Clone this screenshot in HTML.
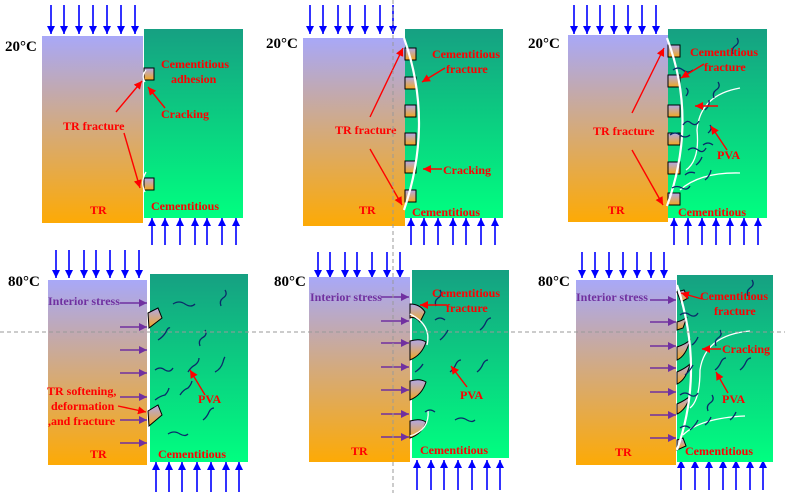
<!DOCTYPE html>
<html><head><meta charset="utf-8"><style>
html,body{margin:0;padding:0;background:#fff;}
svg{display:block;}
text{font-family:"Liberation Serif",serif;font-weight:bold;}
.r{fill:#ff0000;font-size:12px;}
.p{fill:#7030a0;font-size:12px;}
.t{fill:#000;font-size:15px;}
.ba{stroke:#0000ff;stroke-width:1.6;marker-end:url(#mb);}
.ra{stroke:#ff0000;stroke-width:1.4;marker-end:url(#mr);}
.pa{stroke:#7030a0;stroke-width:1.6;marker-end:url(#mp);}
.sq{fill:url(#gs);stroke:#000;stroke-width:1;}
.w{fill:none;stroke:#fff;stroke-width:2.2;}
.w1{fill:none;stroke:#fff;stroke-width:1.3;}
.f{fill:none;stroke:#0a2a6a;stroke-width:1.3;}
</style></head><body>
<svg width="785" height="493" viewBox="0 0 785 493" xmlns="http://www.w3.org/2000/svg">
<defs>
<linearGradient id="gt" x1="0" y1="0" x2="0" y2="1"><stop offset="0" stop-color="#a8a8f8"/><stop offset="0.5" stop-color="#d4aa7c"/><stop offset="1" stop-color="#fdaa05"/></linearGradient>
<linearGradient id="gc" x1="0" y1="0" x2="0" y2="1"><stop offset="0" stop-color="#16a082"/><stop offset="1" stop-color="#00ff80"/></linearGradient>
<linearGradient id="gs" x1="0" y1="0" x2="0" y2="1"><stop offset="0" stop-color="#b0a8e8"/><stop offset="1" stop-color="#f2a820"/></linearGradient>
<marker id="mb" markerWidth="8" markerHeight="8" refX="6" refY="3" orient="auto" markerUnits="userSpaceOnUse" viewBox="0 0 6 6"><path d="M0,0L6,3L0,6z" fill="#0000ff"/></marker>
<marker id="mr" markerWidth="8" markerHeight="8" refX="6" refY="3" orient="auto" markerUnits="userSpaceOnUse" viewBox="0 0 6 6"><path d="M0,0L6,3L0,6z" fill="#ff0000"/></marker>
<marker id="mp" markerWidth="8" markerHeight="8" refX="6" refY="3" orient="auto" markerUnits="userSpaceOnUse" viewBox="0 0 6 6"><path d="M0,0L6,3L0,6z" fill="#7030a0"/></marker>
</defs>

<!-- ===== Panel 1 ===== -->
<g class="ba">
<line x1="51" y1="5" x2="51" y2="34"/><line x1="64" y1="5" x2="64" y2="34"/><line x1="79" y1="5" x2="79" y2="34"/><line x1="93" y1="5" x2="93" y2="34"/><line x1="107" y1="5" x2="107" y2="34"/><line x1="121" y1="5" x2="121" y2="34"/><line x1="135" y1="5" x2="135" y2="34"/>
<line x1="152" y1="245" x2="152" y2="218"/><line x1="165" y1="245" x2="165" y2="218"/><line x1="180" y1="245" x2="180" y2="218"/><line x1="195" y1="245" x2="195" y2="218"/><line x1="207" y1="245" x2="207" y2="218"/><line x1="222" y1="245" x2="222" y2="218"/><line x1="236" y1="245" x2="236" y2="218"/>
</g>
<rect x="42" y="36" width="101" height="187" fill="url(#gt)"/>
<rect x="144" y="29" width="99" height="189" fill="url(#gc)"/>
<rect class="sq" x="144" y="68" width="10" height="12"/>
<rect class="sq" x="144" y="178" width="10" height="12"/>
<path class="w1" d="M146,70 Q141,76 145,82"/><path class="w1" d="M146,172 Q140,182 145,192"/>
<text class="t" x="5" y="51">20°C</text>
<text class="r" x="161" y="68">Cementitious</text><text class="r" x="171" y="83">adhesion</text>
<text class="r" x="161" y="118">Cracking</text>
<text class="r" x="63" y="130">TR fracture</text>
<text class="r" x="90" y="214">TR</text>
<text class="r" x="151" y="210">Cementitious</text>
<g class="ra"><line x1="116" y1="112" x2="142" y2="81"/><line x1="165" y1="108" x2="148" y2="87"/><line x1="124" y1="133" x2="140" y2="188"/></g>

<!-- ===== Panel 2 ===== -->
<g class="ba">
<line x1="310" y1="5" x2="310" y2="34"/><line x1="323" y1="5" x2="323" y2="34"/><line x1="338" y1="5" x2="338" y2="34"/><line x1="350" y1="5" x2="350" y2="34"/><line x1="365" y1="5" x2="365" y2="34"/><line x1="380" y1="5" x2="380" y2="34"/><line x1="393" y1="5" x2="393" y2="34"/>
<line x1="411" y1="245" x2="411" y2="218"/><line x1="424" y1="245" x2="424" y2="218"/><line x1="438" y1="245" x2="438" y2="218"/><line x1="453" y1="245" x2="453" y2="218"/><line x1="466" y1="245" x2="466" y2="218"/><line x1="481" y1="245" x2="481" y2="218"/><line x1="495" y1="245" x2="495" y2="218"/>
</g>
<rect x="303" y="38" width="102" height="188" fill="url(#gt)"/>
<rect x="405" y="29" width="98" height="189" fill="url(#gc)"/>
<rect class="sq" x="405" y="48" width="11" height="12"/><rect class="sq" x="405" y="77" width="11" height="12"/><rect class="sq" x="405" y="105" width="11" height="12"/><rect class="sq" x="405" y="133" width="11" height="12"/><rect class="sq" x="405" y="161" width="11" height="12"/><rect class="sq" x="405" y="190" width="11" height="12"/>
<path class="w" d="M404,38 Q434,122 404,210"/>
<text class="t" x="266" y="48">20°C</text>
<text class="r" x="432" y="58">Cementitious</text><text class="r" x="446" y="73">fracture</text>
<text class="r" x="443" y="174">Cracking</text>
<text class="r" x="335" y="134">TR fracture</text>
<text class="r" x="359" y="214">TR</text>
<text class="r" x="412" y="216">Cementitious</text>
<g class="ra"><line x1="445" y1="68" x2="422" y2="82"/><line x1="442" y1="169" x2="423" y2="169"/><line x1="370" y1="117" x2="403" y2="48"/><line x1="370" y1="149" x2="402" y2="205"/></g>

<!-- ===== Panel 3 ===== -->
<g class="ba">
<line x1="574" y1="5" x2="574" y2="34"/><line x1="587" y1="5" x2="587" y2="34"/><line x1="600" y1="5" x2="600" y2="34"/><line x1="614" y1="5" x2="614" y2="34"/><line x1="628" y1="5" x2="628" y2="34"/><line x1="642" y1="5" x2="642" y2="34"/><line x1="656" y1="5" x2="656" y2="34"/>
<line x1="674" y1="245" x2="674" y2="218"/><line x1="688" y1="245" x2="688" y2="218"/><line x1="702" y1="245" x2="702" y2="218"/><line x1="716" y1="245" x2="716" y2="218"/><line x1="730" y1="245" x2="730" y2="218"/><line x1="744" y1="245" x2="744" y2="218"/><line x1="758" y1="245" x2="758" y2="218"/>
</g>
<rect x="568" y="35" width="100" height="187" fill="url(#gt)"/>
<rect x="668" y="29" width="99" height="189" fill="url(#gc)"/>
<rect class="sq" x="668" y="45" width="12" height="12"/><rect class="sq" x="668" y="75" width="12" height="12"/><rect class="sq" x="668" y="105" width="12" height="12"/><rect class="sq" x="668" y="133" width="12" height="12"/><rect class="sq" x="668" y="162" width="12" height="12"/><rect class="sq" x="668" y="193" width="12" height="12"/>
<path class="w" d="M667,38 Q698,120 667,206"/>
<path class="w1" d="M686,170 Q700,160 697,130 Q700,95 740,88"/>
<path class="w1" d="M680,190 Q700,172 740,173"/>
<g class="f">
<path d="M737,38 q3,5 -2,8 q-4,3 -2,8"/><path d="M673,70 q5,-4 10,0 q5,4 10,0"/><path d="M686,88 q4,3 0,8"/><path d="M718,82 q3,5 -2,8 q-4,3 -2,8"/>
<path d="M683,125 q4,-6 8,-2 q5,4 8,-2"/><path d="M670,135 q5,-4 10,0 q5,4 10,0"/><path d="M688,150 q5,-4 10,0 q5,4 8,-2"/><path d="M705,110 q5,-4 4,-10"/><path d="M710,125 q3,4 -2,8"/><path d="M703,145 q5,-4 10,0"/><path d="M696,165 q4,-3 6,-8"/><path d="M705,180 q5,-4 6,-10"/><path d="M672,188 q5,-3 10,0 q5,3 8,-2"/><path d="M685,175 q4,-4 10,-2"/>
</g>
<text class="t" x="528" y="48">20°C</text>
<text class="r" x="690" y="56">Cementitious</text><text class="r" x="704" y="71">fracture</text>
<text class="r" x="593" y="135">TR fracture</text>
<text class="r" x="717" y="159">PVA</text>
<text class="r" x="608" y="214">TR</text>
<text class="r" x="678" y="216">Cementitious</text>
<g class="ra"><line x1="704" y1="64" x2="681" y2="78"/><line x1="718" y1="106" x2="695" y2="106"/><line x1="727" y1="150" x2="711" y2="126"/><line x1="632" y1="113" x2="664" y2="48"/><line x1="632" y1="150" x2="663" y2="205"/></g>

<!-- ===== Panel 4 ===== -->
<g class="ba">
<line x1="56" y1="250" x2="56" y2="278"/><line x1="69" y1="250" x2="69" y2="278"/><line x1="84" y1="250" x2="84" y2="278"/><line x1="96" y1="250" x2="96" y2="278"/><line x1="110" y1="250" x2="110" y2="278"/><line x1="125" y1="250" x2="125" y2="278"/><line x1="139" y1="250" x2="139" y2="278"/>
<line x1="156" y1="492" x2="156" y2="462"/><line x1="169" y1="492" x2="169" y2="462"/><line x1="182" y1="492" x2="182" y2="462"/><line x1="197" y1="492" x2="197" y2="462"/><line x1="211" y1="492" x2="211" y2="462"/><line x1="226" y1="492" x2="226" y2="462"/><line x1="239" y1="492" x2="239" y2="462"/>
</g>
<rect x="48" y="280" width="99" height="185" fill="url(#gt)"/>
<rect x="150" y="274" width="98" height="188" fill="url(#gc)"/>
<path d="M148,313 L158,308 L162,318 L149,328 Z" fill="url(#gs)" stroke="#000" stroke-width="1"/>
<path d="M148,411 L158,405 L162,415 L149,426 Z" fill="url(#gs)" stroke="#000" stroke-width="1"/>
<g class="f">
<path d="M173,304 q6,-4 12,0 q6,4 10,0"/><path d="M225,290 q3,5 -2,8 q-4,3 -2,8"/><path d="M158,340 q5,-3 8,-8 q2,-5 4,-4"/><path d="M205,330 q3,5 -3,8 q-4,3 -2,8"/><path d="M155,370 q5,-4 10,0 q5,3 8,-2"/><path d="M188,372 q3,-5 7,-7 q4,-3 4,-7"/><path d="M215,372 q6,-3 8,-10 q1,-4 2,-5"/><path d="M180,395 q3,-5 8,-7 q3,-3 4,-7"/><path d="M155,400 q5,-4 10,-5 q3,-3 4,-7"/><path d="M203,420 q4,-3 6,-8 q2,-4 5,-4"/><path d="M168,434 q6,-4 12,0 q5,3 8,0"/>
</g>
<g class="pa">
<line x1="120" y1="303" x2="147" y2="303"/><line x1="120" y1="327" x2="147" y2="327"/><line x1="120" y1="350" x2="147" y2="350"/><line x1="120" y1="373" x2="147" y2="373"/><line x1="120" y1="397" x2="147" y2="397"/><line x1="120" y1="420" x2="147" y2="420"/><line x1="120" y1="443" x2="147" y2="443"/>
</g>
<text class="t" x="8" y="286">80°C</text>
<text class="p" x="48" y="305">Interior stress</text>
<text class="r" x="47" y="395">TR softening,</text><text class="r" x="51" y="410">deformation</text><text class="r" x="48" y="425">,and fracture</text>
<text class="r" x="198" y="403">PVA</text>
<text class="r" x="90" y="458">TR</text>
<text class="r" x="158" y="458">Cementitious</text>
<g class="ra"><line x1="118" y1="406" x2="146" y2="412"/><line x1="205" y1="395" x2="190" y2="370"/></g>

<!-- ===== Panel 5 ===== -->
<g class="ba">
<line x1="318" y1="252" x2="318" y2="278"/><line x1="330" y1="252" x2="330" y2="278"/><line x1="345" y1="252" x2="345" y2="278"/><line x1="357" y1="252" x2="357" y2="278"/><line x1="372" y1="252" x2="372" y2="278"/><line x1="387" y1="252" x2="387" y2="278"/><line x1="400" y1="252" x2="400" y2="278"/>
<line x1="417" y1="490" x2="417" y2="460"/><line x1="431" y1="490" x2="431" y2="460"/><line x1="444" y1="490" x2="444" y2="460"/><line x1="458" y1="490" x2="458" y2="460"/><line x1="472" y1="490" x2="472" y2="460"/><line x1="487" y1="490" x2="487" y2="460"/><line x1="500" y1="490" x2="500" y2="460"/>
</g>
<rect x="309" y="277" width="101" height="185" fill="url(#gt)"/>
<rect x="412" y="270" width="97" height="188" fill="url(#gc)"/>
<g fill="url(#gs)" stroke="#000" stroke-width="1">
<path d="M410,304 Q420,304 425,312 L420,322 Q415,316 410,318 Z"/>
<path d="M410,341 Q420,338 426,342 Q422,355 410,360 Z"/>
<path d="M410,381 Q420,378 426,382 Q422,395 410,400 Z"/>
<path d="M410,421 Q420,418 426,422 Q422,434 410,438 Z"/>
</g>
<path class="w1" d="M410,314 Q432,325 427,345"/><path class="w1" d="M410,436 Q430,430 428,410"/>
<g class="f">
<path d="M440,290 q3,5 -2,8 q-4,3 -2,8"/><path d="M435,320 q5,-4 10,0"/><path d="M440,340 q5,-4 8,-10"/><path d="M480,330 q4,-3 6,-8 q2,-4 5,-4"/><path d="M415,372 q5,-3 8,-8"/><path d="M450,372 q4,-3 6,-8 q2,-4 5,-4"/><path d="M477,372 q4,-3 6,-8 q2,-4 5,-4"/><path d="M425,412 q5,-4 10,0"/><path d="M455,420 q6,-4 12,0 q5,3 8,0"/>
</g>
<g class="pa">
<line x1="381" y1="297" x2="409" y2="297"/><line x1="381" y1="321" x2="409" y2="321"/><line x1="381" y1="343" x2="409" y2="343"/><line x1="381" y1="367" x2="409" y2="367"/><line x1="381" y1="390" x2="409" y2="390"/><line x1="381" y1="414" x2="409" y2="414"/><line x1="381" y1="437" x2="409" y2="437"/>
</g>
<text class="t" x="274" y="286">80°C</text>
<text class="p" x="310" y="301">Interior stress</text>
<text class="r" x="432" y="297">Cementitious</text><text class="r" x="446" y="312">fracture</text>
<text class="r" x="460" y="399">PVA</text>
<text class="r" x="351" y="455">TR</text>
<text class="r" x="420" y="454">Cementitious</text>
<g class="ra"><line x1="447" y1="305" x2="420" y2="305"/><line x1="467" y1="387" x2="451" y2="366"/></g>

<!-- ===== Panel 6 ===== -->
<g class="ba">
<line x1="582" y1="252" x2="582" y2="278"/><line x1="595" y1="252" x2="595" y2="278"/><line x1="609" y1="252" x2="609" y2="278"/><line x1="623" y1="252" x2="623" y2="278"/><line x1="637" y1="252" x2="637" y2="278"/><line x1="651" y1="252" x2="651" y2="278"/><line x1="664" y1="252" x2="664" y2="278"/>
<line x1="681" y1="490" x2="681" y2="460"/><line x1="695" y1="490" x2="695" y2="460"/><line x1="709" y1="490" x2="709" y2="460"/><line x1="723" y1="490" x2="723" y2="460"/><line x1="736" y1="490" x2="736" y2="460"/><line x1="750" y1="490" x2="750" y2="460"/><line x1="763" y1="490" x2="763" y2="460"/>
</g>
<rect x="576" y="280" width="100" height="185" fill="url(#gt)"/>
<rect x="677" y="275" width="96" height="187" fill="url(#gc)"/>
<g fill="url(#gs)" stroke="#000" stroke-width="1">
<path d="M677,292 L684,290 L688,298 L681,302 Z"/>
<path d="M677,322 Q684,320 687,317 L683,328 L677,330 Z"/>
<path d="M677,347 Q686,344 690,340 Q686,356 677,360 Z"/>
<path d="M677,372 Q686,368 690,364 Q686,380 677,384 Z"/>
<path d="M677,404 Q686,400 690,396 Q686,410 677,414 Z"/>
<path d="M677,440 L683,438 L686,446 L677,450 Z"/>
</g>
<path class="w" d="M677,285 Q705,370 677,450"/>
<path class="w1" d="M690,408 Q700,400 700,370 Q705,335 750,331"/>
<path class="w1" d="M683,435 Q700,418 745,416"/>
<g class="f">
<path d="M752,280 q3,5 -2,8 q-4,3 -2,8"/><path d="M680,315 q5,-4 10,0 q5,3 8,-2"/><path d="M720,330 q3,5 -2,8 q-4,3 -2,8"/><path d="M692,345 q4,-3 6,-8"/><path d="M685,375 q5,-4 8,-10"/><path d="M715,370 q4,-3 6,-8 q2,-4 5,-4"/><path d="M740,370 q4,-3 6,-8 q2,-4 5,-4"/><path d="M680,395 q5,-4 10,0 q5,3 8,-2"/><path d="M712,395 q3,5 -2,8 q-4,3 -2,8"/><path d="M690,430 q5,-4 8,-10"/><path d="M705,425 q4,-3 6,-8"/><path d="M730,420 q4,-3 6,-8"/><path d="M680,428 q5,-4 10,0"/>
</g>
<g class="pa">
<line x1="650" y1="300" x2="676" y2="300"/><line x1="650" y1="322" x2="676" y2="322"/><line x1="650" y1="346" x2="676" y2="346"/><line x1="650" y1="368" x2="676" y2="368"/><line x1="650" y1="392" x2="676" y2="392"/><line x1="650" y1="415" x2="676" y2="415"/><line x1="650" y1="438" x2="676" y2="438"/>
</g>
<text class="t" x="538" y="286">80°C</text>
<text class="p" x="576" y="301">Interior stress</text>
<text class="r" x="700" y="300">Cementitious</text><text class="r" x="714" y="315">fracture</text>
<text class="r" x="722" y="353">Cracking</text>
<text class="r" x="722" y="403">PVA</text>
<text class="r" x="615" y="456">TR</text>
<text class="r" x="685" y="455">Cementitious</text>
<g class="ra"><line x1="702" y1="299" x2="681" y2="293"/><line x1="721" y1="349" x2="702" y2="349"/><line x1="728" y1="393" x2="716" y2="372"/></g>

<!-- dashed guides -->
<line x1="0" y1="332" x2="785" y2="332" stroke="#999" stroke-width="1" stroke-dasharray="4,3"/>
<line x1="393" y1="0" x2="393" y2="493" stroke="#999" stroke-width="1" stroke-dasharray="4,3"/>
</svg>
</body></html>
